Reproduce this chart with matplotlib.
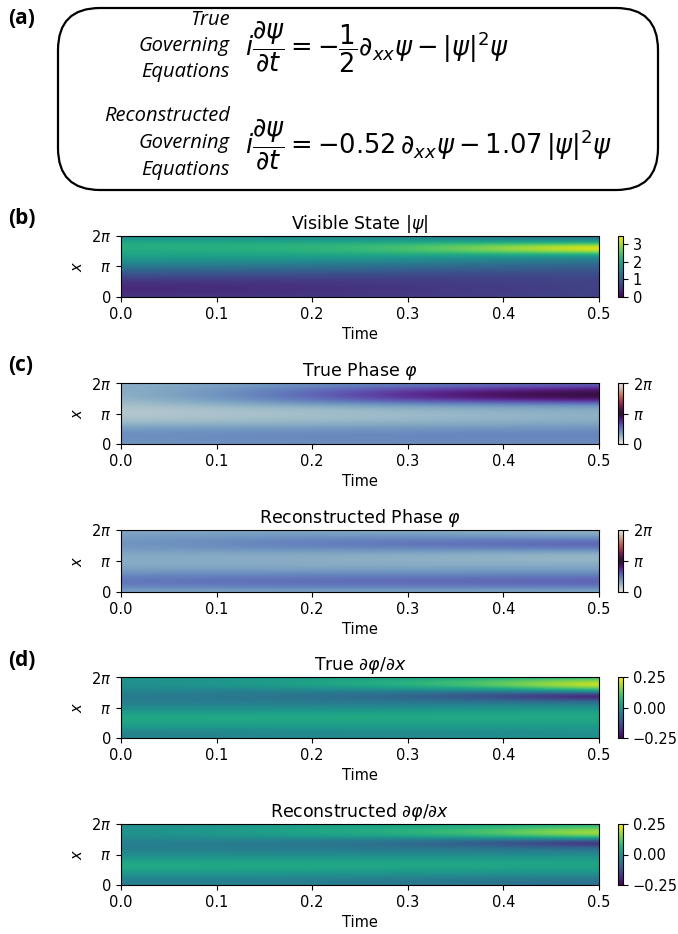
import numpy as np
import matplotlib.pyplot as plt
from matplotlib.patches import FancyBboxPatch

# sample times and 17 x samples from 0 to 2pi (bottom to top), one row per time
times = [0.0, 0.1, 0.2, 0.3, 0.4, 0.5]
n_x = 17

psi_abs = [
    [0.55, 0.45, 0.40, 0.43, 0.52, 0.70, 0.92, 1.15, 1.40, 1.65, 1.85, 2.00, 2.10, 2.15, 2.10, 1.85, 1.55],
    [0.55, 0.47, 0.43, 0.45, 0.54, 0.70, 0.90, 1.12, 1.38, 1.63, 1.85, 2.02, 2.15, 2.18, 2.10, 1.85, 1.50],
    [0.58, 0.50, 0.48, 0.50, 0.56, 0.68, 0.86, 1.08, 1.32, 1.58, 1.82, 2.05, 2.20, 2.25, 2.10, 1.80, 1.45],
    [0.62, 0.56, 0.54, 0.56, 0.60, 0.69, 0.83, 1.02, 1.25, 1.50, 1.78, 2.10, 2.40, 2.45, 2.15, 1.70, 1.35],
    [0.66, 0.62, 0.61, 0.62, 0.65, 0.70, 0.80, 0.96, 1.15, 1.38, 1.65, 2.10, 2.85, 2.90, 2.20, 1.55, 1.25],
    [0.70, 0.68, 0.67, 0.68, 0.70, 0.74, 0.80, 0.92, 1.08, 1.28, 1.55, 2.10, 3.30, 3.40, 2.20, 1.45, 1.20],
]

phase_true = [
    [1.20, 1.25, 1.28, 1.25, 1.10, 0.85, 0.65, 0.55, 0.50, 0.52, 0.60, 0.70, 0.78, 0.82, 0.85, 0.85, 0.85],
    [1.25, 1.30, 1.32, 1.28, 1.12, 0.88, 0.70, 0.60, 0.58, 0.62, 0.80, 1.00, 1.15, 1.20, 1.15, 1.05, 0.98],
    [1.28, 1.32, 1.35, 1.30, 1.15, 0.92, 0.75, 0.66, 0.65, 0.72, 0.98, 1.40, 1.70, 1.75, 1.60, 1.38, 1.20],
    [1.30, 1.35, 1.37, 1.32, 1.18, 0.95, 0.80, 0.72, 0.72, 0.82, 1.12, 1.80, 2.30, 2.40, 2.10, 1.65, 1.38],
    [1.30, 1.35, 1.38, 1.35, 1.20, 1.00, 0.85, 0.78, 0.80, 0.90, 1.20, 2.00, 2.70, 2.80, 2.40, 1.85, 1.48],
    [1.30, 1.35, 1.38, 1.35, 1.22, 1.05, 0.90, 0.85, 0.85, 0.95, 1.25, 2.15, 2.90, 3.05, 2.65, 2.05, 1.58],
]

phase_rec = [
    [1.00, 1.25, 1.50, 1.55, 1.42, 1.22, 1.05, 0.95, 0.90, 0.92, 1.00, 1.10, 1.18, 1.18, 1.10, 1.02, 0.98],
    [1.00, 1.30, 1.58, 1.62, 1.48, 1.25, 1.05, 0.95, 0.90, 0.90, 1.00, 1.18, 1.32, 1.32, 1.22, 1.08, 1.00],
    [1.00, 1.32, 1.62, 1.66, 1.50, 1.25, 1.05, 0.93, 0.88, 0.88, 1.00, 1.25, 1.45, 1.45, 1.30, 1.10, 1.00],
    [0.98, 1.32, 1.65, 1.70, 1.52, 1.25, 1.05, 0.92, 0.85, 0.85, 0.98, 1.28, 1.55, 1.55, 1.32, 1.08, 0.95],
    [0.95, 1.32, 1.68, 1.74, 1.55, 1.28, 1.05, 0.92, 0.82, 0.80, 0.92, 1.30, 1.65, 1.62, 1.30, 1.00, 0.88],
    [0.92, 1.32, 1.72, 1.78, 1.58, 1.28, 1.05, 0.92, 0.80, 0.75, 0.88, 1.35, 1.75, 1.70, 1.25, 0.92, 0.80],
]

dphi_true = [
    [-0.02, -0.03, -0.01, 0.02, 0.04, 0.05, 0.04, 0.02, -0.01, -0.03, -0.04, -0.04, -0.03, -0.01, 0.00, 0.00, 0.00],
    [-0.02, -0.03, -0.01, 0.02, 0.04, 0.05, 0.045, 0.02, -0.01, -0.03, -0.045, -0.05, -0.04, -0.01, 0.01, 0.01, 0.00],
    [-0.01, -0.02, 0.00, 0.02, 0.04, 0.05, 0.045, 0.02, -0.01, -0.035, -0.055, -0.065, -0.04, 0.00, 0.04, 0.04, 0.02],
    [-0.01, -0.02, 0.00, 0.02, 0.04, 0.05, 0.05, 0.025, -0.01, -0.04, -0.07, -0.09, -0.05, 0.02, 0.07, 0.06, 0.03],
    [0.00, -0.01, 0.00, 0.02, 0.04, 0.05, 0.05, 0.03, 0.00, -0.04, -0.09, -0.15, -0.07, 0.05, 0.14, 0.11, 0.05],
    [0.00, 0.00, 0.01, 0.02, 0.04, 0.05, 0.05, 0.03, 0.00, -0.05, -0.12, -0.26, -0.03, 0.14, 0.25, 0.17, 0.08],
]

dphi_rec = [
    [-0.03, -0.04, -0.02, 0.01, 0.04, 0.05, 0.045, 0.02, -0.01, -0.03, -0.035, -0.035, -0.02, 0.00, 0.00, 0.00, 0.00],
    [-0.03, -0.04, -0.02, 0.01, 0.04, 0.05, 0.045, 0.02, -0.01, -0.03, -0.04, -0.04, -0.02, 0.01, 0.02, 0.01, 0.00],
    [-0.04, -0.04, -0.02, 0.01, 0.035, 0.05, 0.045, 0.02, -0.01, -0.035, -0.05, -0.055, -0.02, 0.03, 0.05, 0.04, 0.02],
    [-0.05, -0.05, -0.03, 0.01, 0.035, 0.045, 0.045, 0.02, -0.01, -0.04, -0.06, -0.08, -0.03, 0.05, 0.07, 0.05, 0.03],
    [-0.06, -0.06, -0.03, 0.00, 0.03, 0.045, 0.04, 0.02, -0.01, -0.04, -0.08, -0.13, -0.04, 0.09, 0.13, 0.08, 0.05],
    [-0.07, -0.06, -0.04, 0.00, 0.03, 0.045, 0.04, 0.02, -0.01, -0.045, -0.10, -0.23, -0.03, 0.16, 0.21, 0.12, 0.07],
]

W, H = 678, 934
fig = plt.figure(figsize=(W / 100, H / 100), dpi=100)


def px_rect(left, top, right, bottom):
    return [left / W, 1 - bottom / H, (right - left) / W, (bottom - top) / H]


def heat(top, bottom, data, cmap, vmin, vmax, title, cticks, clabels=None):
    ax = fig.add_axes(px_rect(121, top, 599, bottom))
    Z = np.array(data).T
    dt = times[1] - times[0]
    dx = 2 * np.pi / (n_x - 1)
    im = ax.imshow(Z, origin='lower', aspect='auto', cmap=cmap, vmin=vmin, vmax=vmax,
                   interpolation='bicubic',
                   extent=[times[0] - dt / 2, times[-1] + dt / 2, -dx / 2, 2 * np.pi + dx / 2])
    ax.set_xlim(0, 0.5)
    ax.set_ylim(0, 2 * np.pi)
    ax.set_xticks([0.0, 0.1, 0.2, 0.3, 0.4, 0.5])
    ax.set_yticks([0, np.pi, 2 * np.pi])
    ax.set_yticklabels(['0', r'$\pi$', r'$2\pi$'])
    ax.tick_params(labelsize=10.5)
    ax.set_xlabel('Time', fontsize=10.5)
    ax.set_ylabel('$x$', fontsize=10.5)
    ax.set_title(title, fontsize=12.5, pad=5)
    cax = fig.add_axes(px_rect(618, top, 623, bottom))
    cb = fig.colorbar(im, cax=cax, ticks=cticks)
    if clabels is not None:
        cb.set_ticklabels(clabels)
    cb.ax.tick_params(labelsize=10.5)
    return ax


heat(236, 297, psi_abs, 'viridis', 0, 3.45, r'Visible State $|\psi|$', [0, 1, 2, 3])
phase_ticks = [0, np.pi, 2 * np.pi]
phase_labels = ['0', r'$\pi$', r'$2\pi$']
heat(383, 444, phase_true, 'twilight', 0, 2 * np.pi, r'True Phase $\varphi$', phase_ticks, phase_labels)
heat(530, 592, phase_rec, 'twilight', 0, 2 * np.pi, r'Reconstructed Phase $\varphi$', phase_ticks, phase_labels)
heat(677, 738, dphi_true, 'viridis', -0.25, 0.25, r'True $\partial\varphi/\partial x$', [-0.25, 0, 0.25], ['\u22120.25', '0.00', '0.25'])
heat(824, 885, dphi_rec, 'viridis', -0.25, 0.25, r'Reconstructed $\partial\varphi/\partial x$', [-0.25, 0, 0.25], ['\u22120.25', '0.00', '0.25'])

# panel (a): rounded box with the equations
box = FancyBboxPatch((0.58, (H - 190) / 100), 6.0, 1.82,
                     boxstyle='round,pad=0,rounding_size=0.42',
                     transform=fig.dpi_scale_trans, fill=False, lw=1.6, ec='black')
fig.patches.append(box)

lab = dict(family='Open Sans', style='italic', fontsize=14.5, ha='right', va='center')
for txt, yy in [('True', 20), ('Governing', 46), ('Equations', 72),
                ('Reconstructed', 116), ('Governing', 143), ('Equations', 170)]:
    fig.text(230 / W, 1 - yy / H, txt, **lab)

fig.text(245 / W, 1 - 47 / H,
         r'$i\dfrac{\partial\psi}{\partial t}=-\dfrac{1}{2}\partial_{xx}\psi-|\psi|^2\psi$',
         fontsize=18.5, ha='left', va='center')
fig.text(245 / W, 1 - 145 / H,
         r'$i\dfrac{\partial\psi}{\partial t}=-0.52\,\partial_{xx}\psi-1.07\,|\psi|^2\psi$',
         fontsize=18.5, ha='left', va='center')

for txt, yy in [('(a)', 18), ('(b)', 219), ('(c)', 365), ('(d)', 661)]:
    fig.text(8 / W, 1 - yy / H, txt, family='Open Sans', weight='bold', fontsize=15,
             ha='left', va='center')

fig.savefig('out.png', dpi=100)
